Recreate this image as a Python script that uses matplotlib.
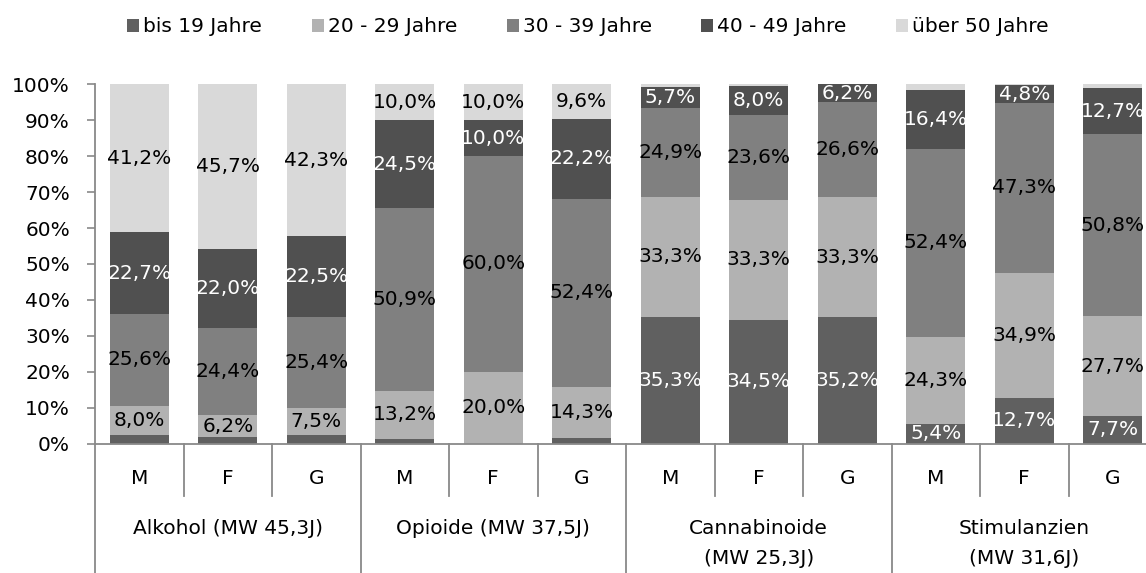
import numpy as np
import matplotlib
matplotlib.use("Agg")
import matplotlib.pyplot as plt
from matplotlib.patches import Patch

# data (percent), order: Alkohol M/F/G, Opioide M/F/G, Cannabinoide M/F/G, Stimulanzien M/F/G
groups = ["Alkohol (MW 45,3J)", "Opioide (MW 37,5J)",
          "Cannabinoide\n(MW 25,3J)", "Stimulanzien\n(MW 31,6J)"]
sexes = ["M", "F", "G"]
series_names = ["bis 19 Jahre", "20 - 29 Jahre", "30 - 39 Jahre",
                "40 - 49 Jahre", "über 50 Jahre"]

bis19 = [2.5, 1.7, 2.3, 1.4, 0.0, 1.5, 35.3, 34.5, 35.2, 5.4, 12.7, 7.7]
a20_29 = [8.0, 6.2, 7.5, 13.2, 20.0, 14.3, 33.3, 33.3, 33.3, 24.3, 34.9, 27.7]
a30_39 = [25.6, 24.4, 25.4, 50.9, 60.0, 52.4, 24.9, 23.6, 26.6, 52.4, 47.3, 50.8]
a40_49 = [22.7, 22.0, 22.5, 24.5, 10.0, 22.2, 5.7, 8.0, 6.2, 16.4, 4.8, 12.7]
ueber50 = [41.2, 45.7, 42.3, 10.0, 10.0, 9.6, 0.8, 0.6, 0.0, 1.5, 0.3, 1.1]

colors = ["#606060", "#b2b2b2", "#808080", "#505050", "#d9d9d9"]
label_colors = ["white", "black", "black", "white", "black"]

FS = 14.5
AXC = "#898989"

fig = plt.figure(figsize=(11.46, 5.73), dpi=100)
ax = fig.add_axes([95 / 1146, (573 - 443.6) / 573, 1062 / 1146, 359.3 / 573])

n = len(groups) * len(sexes)
x = np.arange(n)
bottom = np.zeros(n)
all_series = [bis19, a20_29, a30_39, a40_49, ueber50]

for vals, col, lc in zip(all_series, colors, label_colors):
    vals = np.asarray(vals) / 100.0
    ax.bar(x, vals, bottom=bottom, width=0.667, color=col, edgecolor="none")
    for xi, b, v in zip(x, bottom, vals):
        if v * 100 >= 3:
            top = min(b + v, 1.0)
            ax.text(xi, (b + top) / 2, f"{v * 100:.1f}%".replace(".", ","),
                    ha="center", va="center", fontsize=FS, color=lc,
                    clip_on=True)
    bottom = bottom + vals

ax.set_xlim(-0.5, n - 0.5)
ax.set_ylim(0, 1)
ax.set_yticks(np.linspace(0, 1, 11))
ax.set_yticklabels([f"{int(round(t * 100))}%" for t in np.linspace(0, 1, 11)],
                   fontsize=FS)
ax.tick_params(axis="y", length=6, width=1.2, color=AXC, pad=12)
ax.set_xticks([])
for s in ["top", "right"]:
    ax.spines[s].set_visible(False)
for s in ["left", "bottom"]:
    ax.spines[s].set_color(AXC)
    ax.spines[s].set_linewidth(1.3)

# two-level category axis
trans = ax.get_xaxis_transform()
for i in range(n + 1):
    xb = i - 0.5
    if i % 3 == 0:
        ax.plot([xb, xb], [0, -0.37], color=AXC, lw=1.3, transform=trans,
                clip_on=False)
    else:
        ax.plot([xb, xb], [0, -0.145], color=AXC, lw=1.3, transform=trans,
                clip_on=False)

for i in range(n):
    ax.text(i, -0.097, sexes[i % 3], ha="center", va="center", fontsize=FS,
            transform=trans)

for g, name in enumerate(groups):
    ax.text(g * 3 + 1, -0.21, name, ha="center", va="top", fontsize=FS,
            transform=trans, linespacing=1.75)

handles = [Patch(facecolor=c, edgecolor="none") for c in colors]
fig.legend(handles, series_names, ncol=5, loc="center",
           bbox_to_anchor=(588 / 1146, 1 - 27 / 573), frameon=False,
           fontsize=FS, handlelength=0.6, handleheight=0.6,
           handletextpad=0.2, columnspacing=2.45)

fig.savefig("out.png", dpi=100)
